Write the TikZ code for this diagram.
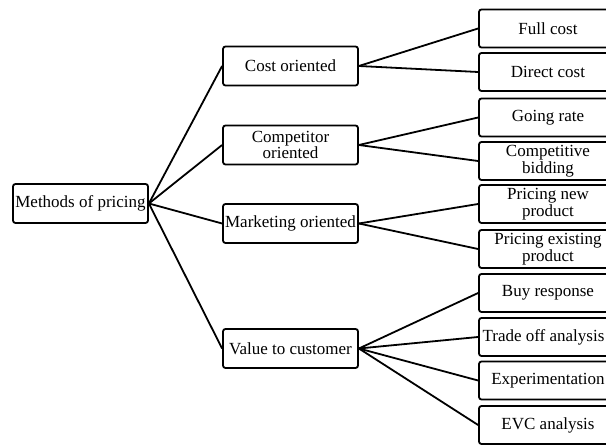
\documentclass[tikz,border=0pt]{standalone}
\usepackage{fontspec}
\setmainfont{Liberation Serif}

\begin{document}
\begin{tikzpicture}[x=1pt, y=-1pt,
    method/.style ={draw, line width=1.8pt, rounded corners=2.5pt,
      minimum width=135pt, minimum height=39pt, inner sep=1pt,
      align=center, font=\fontsize{17}{16.5}\selectfont},
    leaf/.style ={method, minimum width=138pt, minimum height=38pt},
    branch/.style ={line width=1.8pt}]
   \useasboundingbox (0,0) rectangle (606,446);

   \node[method] (M) at (80.5,203.5)  {Methods of pricing};

   \node[method] (CO) at (290.5,66)  {Cost oriented};
   \node[method] (CP) at (290.5,145)  {Competitor\\oriented};
   \node[method] (MO) at (290.5,223.5)  {Marketing oriented};
   \node[method] (VC) at (290.5,348.5)  {Value to customer};

   \node[leaf] (FC) at (548,28.5)  {Full cost};
   \node[leaf] (DC) at (548,72)  {Direct cost};
   \node[leaf] (GR) at (548,117.5)  {Going rate};
   \node[leaf] (CB) at (548,161)  {Competitive\\bidding};
   \node[leaf] (PN) at (548,204)  {Pricing new\\product};
   \node[leaf] (PE) at (548,249)  {Pricing existing\\product};
   \node[leaf] (BR) at (548,293)  {Buy response};
   \node[leaf] (TO) at (548,337)  {Trade off analysis\hspace{9pt}};
   \node[leaf] (EX) at (548,380.5)  {Experimentation};
   \node[leaf] (EV) at (548,425)  {EVC analysis};

   \draw[branch] (M.east) to  (CO.west);
   \draw[branch] (M.east) to  (CP.west);
   \draw[branch] (M.east) to  (MO.west);
   \draw[branch] (M.east) to  (VC.west);

   \draw[branch] (CO.east) to  (FC.west);
   \draw[branch] (CO.east) to  (DC.west);
   \draw[branch] (CP.east) to  (GR.west);
   \draw[branch] (CP.east) to  (CB.west);
   \draw[branch] (MO.east) to  (PN.west);
   \draw[branch] (MO.east) to  (PE.west);
   \draw[branch] (VC.east) to  (BR.west);
   \draw[branch] (VC.east) to  (TO.west);
   \draw[branch] (VC.east) to  (EX.west);
   \draw[branch] (VC.east) to  (EV.west);
 \end{tikzpicture}
\end{document}
